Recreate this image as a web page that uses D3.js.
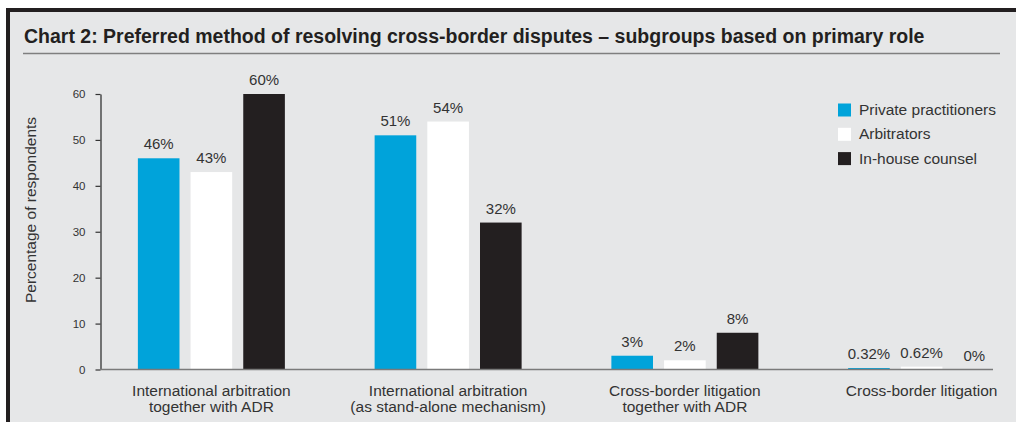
<!DOCTYPE html>
<html>
<head>
<meta charset="utf-8">
<script src="https://cdn.jsdelivr.net/npm/d3@7"></script>
<style>
  html, body { margin: 0; padding: 0; background: #fff; }
  svg { display: block; }
  text { font-family: "Liberation Sans", Arial, Helvetica, sans-serif; }
</style>
</head>
<body>
<svg id="chart" width="1016" height="422"></svg>
<script>
// Survey categories (multi-line labels split on \n)
const categories = [
  "International arbitration\ntogether with ADR",
  "International arbitration\n(as stand-alone mechanism)",
  "Cross-border litigation\ntogether with ADR",
  "Cross-border litigation"
];
const seriesNames = ["Private practitioners", "Arbitrators", "In-house counsel"];
const privatePractitioners = [46, 51, 3, 0.32];
const arbitrators = [43, 54, 2, 0.62];
const inHouseCounsel = [60, 32, 8, 0];
const yTicks = [0, 10, 20, 30, 40, 50, 60];
const titleText = "Chart 2: Preferred method of resolving cross-border disputes \u2013 subgroups based on primary role";
const yAxisTitle = "Percentage of respondents";

const seriesValues = [privatePractitioners, arbitrators, inHouseCounsel];
const colors = ["#00a3da", "#ffffff", "#231f20"];

const svg = d3.select("#chart");
const W = 1016, H = 422;

// Panel: grey background with heavy black frame on top and left
svg.append("rect").attr("x", 0).attr("y", 0).attr("width", W).attr("height", H).attr("fill", "#ffffff");
svg.append("rect").attr("x", 6).attr("y", 8).attr("width", W - 6).attr("height", H - 8).attr("fill", "#231f20");
svg.append("rect").attr("x", 10).attr("y", 12).attr("width", W - 10).attr("height", H - 12).attr("fill", "#e6e7e8");

// Title and rule beneath it
svg.append("text")
  .attr("x", 24).attr("y", 43)
  .attr("font-size", 19.5).attr("font-weight", "bold").attr("fill", "#231f20")
  .text(titleText);
svg.append("line")
  .attr("x1", 23).attr("x2", 1000).attr("y1", 53.5).attr("y2", 53.5)
  .attr("stroke", "#7f7f7f").attr("stroke-width", 1.6);

// Scales
const x0 = d3.scaleBand().domain(categories).range([93, 1040]).paddingInner(0).paddingOuter(0);
const x1 = d3.scaleBand().domain(seriesNames).range([-73.5, 73.5]).paddingInner(0.21).paddingOuter(0);
const y = d3.scaleLinear().domain([0, 60]).range([369.5, 94]);

// Y axis
const yAxis = d3.axisLeft(y).tickValues(yTicks).tickSize(5).tickSizeOuter(0).tickPadding(10);
const gy = svg.append("g").attr("transform", "translate(100.5,0)").call(yAxis);
gy.select(".domain").attr("stroke", "#333333").attr("stroke-width", 1.3);
gy.selectAll(".tick line").attr("stroke", "#333333").attr("stroke-width", 1.2);
gy.selectAll(".tick text")
  .attr("font-size", 11.5).attr("fill", "#333333")
  .attr("font-family", "\"Liberation Sans\", Arial, sans-serif");

// Y axis title
svg.append("text")
  .attr("transform", `translate(36,210) rotate(-90)`)
  .attr("text-anchor", "middle")
  .attr("font-size", 15.5).attr("fill", "#333333")
  .text(yAxisTitle);

// Bars
const groups = svg.append("g").selectAll("g")
  .data(categories)
  .join("g")
  .attr("transform", d => `translate(${x0(d) + x0.bandwidth() / 2},0)`);

groups.selectAll("rect")
  .data((d, i) => seriesNames.map((s, j) => ({ s, v: seriesValues[j][i], j })))
  .join("rect")
  .attr("x", d => x1(d.s))
  .attr("width", x1.bandwidth())
  .attr("y", d => y(d.v))
  .attr("height", d => y(0) - y(d.v))
  .attr("fill", d => colors[d.j]);

// Value labels
groups.selectAll("text.val")
  .data((d, i) => seriesNames.map((s, j) => ({ s, v: seriesValues[j][i], j })))
  .join("text")
  .attr("class", "val")
  .attr("x", d => x1(d.s) + x1.bandwidth() / 2)
  .attr("y", d => y(d.v) - 9)
  .attr("text-anchor", "middle")
  .attr("font-size", 15).attr("fill", "#333333")
  .text(d => `${d.v}%`);

// Baseline
svg.append("line")
  .attr("x1", 100).attr("x2", 993).attr("y1", y(0)).attr("y2", y(0))
  .attr("stroke", "#7a7a7a").attr("stroke-width", 1.6);

// Category labels
groups.append("text")
  .attr("text-anchor", "middle")
  .attr("font-size", 15.5).attr("fill", "#333333")
  .selectAll("tspan")
  .data(d => d.split("\n"))
  .join("tspan")
  .attr("x", 0)
  .attr("y", (d, i) => 396 + i * 16)
  .text(d => d);

// Legend
const legend = svg.append("g").selectAll("g")
  .data(seriesNames)
  .join("g")
  .attr("transform", (d, i) => `translate(838,${103.5 + i * 24.3})`);
legend.append("rect")
  .attr("width", 13).attr("height", 13)
  .attr("fill", (d, i) => colors[i]);
legend.append("text")
  .attr("x", 21).attr("y", 11.5)
  .attr("font-size", 15.5).attr("fill", "#333333")
  .text(d => d);
</script>
</body>
</html>
